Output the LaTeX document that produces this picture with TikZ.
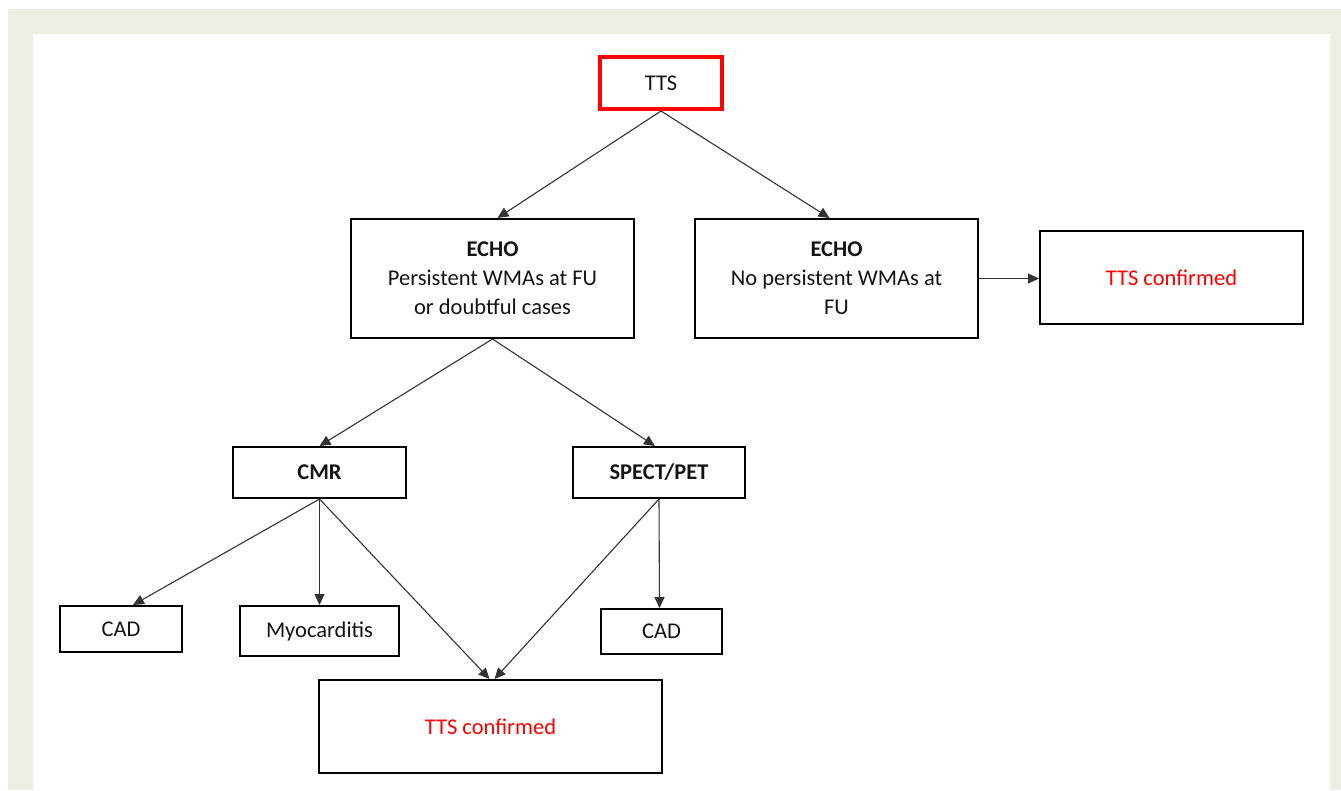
\documentclass[tikz,border=0pt]{standalone}
\usepackage{fontspec}
\setmainfont{Carlito}
\usetikzlibrary{arrows.meta}
\definecolor{beige}{RGB}{238,238,228}
\definecolor{txt}{RGB}{20,20,20}
\definecolor{tred}{RGB}{255,0,0}
\tikzset{
  box/.style={draw=black, line width=2pt, inner sep=0pt, align=center, text=txt,
    font=\fontsize{22.5}{29}\selectfont},
  redbox/.style={box, draw=tred, line width=4pt},
  conn/.style={draw=black!80, line width=1.1pt, -{Triangle[length=11pt,width=10pt]}},
}
\begin{document}
\begin{tikzpicture}[x=1pt,y=-1pt]
\useasboundingbox (0,0) rectangle (1341,790);
\fill[white] (0,0) rectangle (1341,790);
\fill[beige] (8,9) rectangle (1341,790);
\fill[white] (33,34) rectangle (1330,790);

\node[redbox, minimum width=122pt, minimum height=52pt] (tts) at (661,83) {TTS};
\node[box, minimum width=283pt, minimum height=119pt] (echoL) at (492.5,278.5)
  {\textbf{ECHO}\\Persistent WMAs at FU\\or doubtful cases};
\node[box, minimum width=283pt, minimum height=119pt] (echoR) at (836.5,278.5)
  {\textbf{ECHO}\\No persistent WMAs at\\FU};
\node[box, minimum width=263pt, minimum height=93pt, text=tred] (confR) at (1171.5,277.5) {TTS confirmed};
\node[box, minimum width=173pt, minimum height=51pt] (cmr) at (319.5,472.5) {\textbf{CMR}};
\node[box, minimum width=172pt, minimum height=51pt] (spect) at (659,472.5) {\textbf{SPECT/PET}};
\node[box, minimum width=122pt, minimum height=46pt] (cadL) at (121,629) {CAD};
\node[box, minimum width=159pt, minimum height=50pt] (myo) at (319.5,631) {Myocarditis};
\node[box, minimum width=121pt, minimum height=45pt] (cadR) at (661.5,631.5) {CAD};
\node[box, minimum width=343pt, minimum height=93pt, text=tred] (confB) at (490.5,726.5) {TTS confirmed};

\draw[conn] (tts.south) -- ([xshift=5pt]echoL.north);
\draw[conn] (tts.south) -- ([xshift=-7pt]echoR.north);
\draw[conn] (echoR.east) -- (echoR.east -| confR.west);
\draw[conn] (echoL.south) -- (cmr.north);
\draw[conn] (echoL.south) -- ([xshift=-4pt]spect.north);
\draw[conn] (cmr.south) -- ([xshift=12pt]cadL.north);
\draw[conn] (cmr.south) -- (myo.north);
\draw[conn] (cmr.south) -- ([xshift=-1pt]confB.north);
\draw[conn] (spect.south) -- ([xshift=0.5pt]cadR.north -| spect.south);
\draw[conn] (spect.south) -- ([xshift=4pt]confB.north);
\end{tikzpicture}
\end{document}
